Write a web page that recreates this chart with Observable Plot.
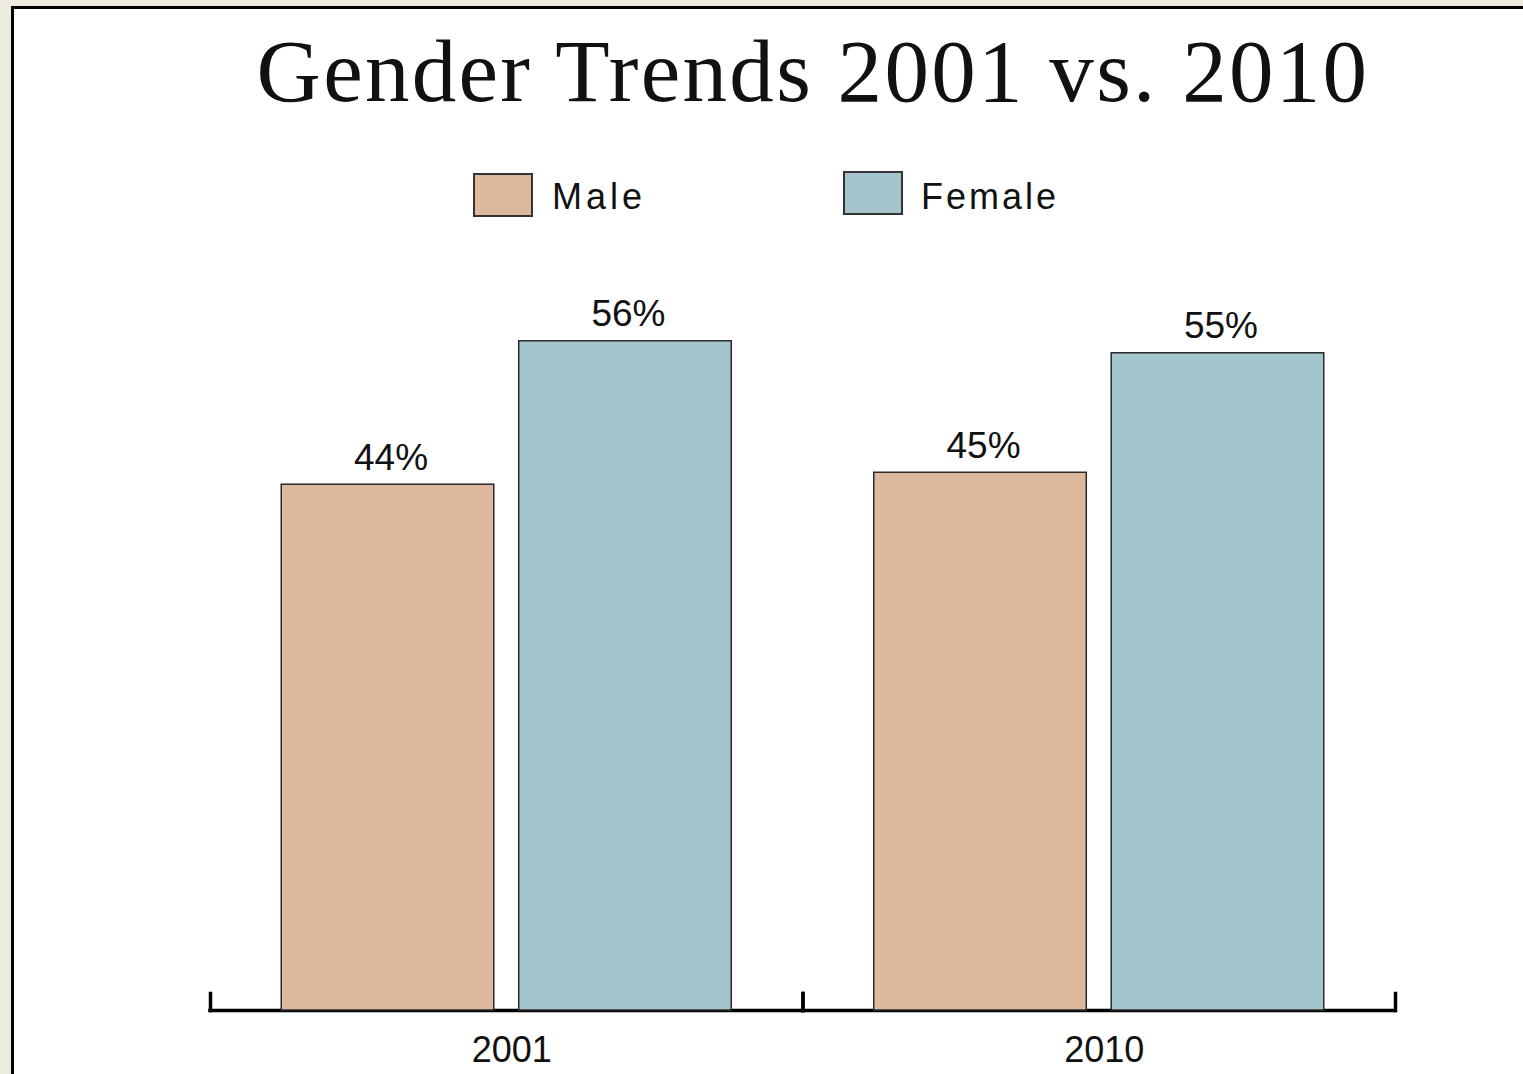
<!DOCTYPE html>
<html>
<head>
<meta charset="utf-8">
<script src="https://cdn.jsdelivr.net/npm/d3@7"></script>
<script src="https://cdn.jsdelivr.net/npm/@observablehq/plot@0.6"></script>
<style>
  html, body { margin: 0; padding: 0; }
  body { width: 1523px; height: 1074px; background: #EDEAE0; position: relative; overflow: hidden; }
  #panel { position: absolute; left: 11px; top: 6px; right: 0; bottom: 0; background: #fff;
           border-left: 3px solid #000; border-top: 3px solid #000; }
  #title { position: absolute; left: 813px; top: 27px; transform: translateX(-50%); white-space: nowrap;
           font-family: "Liberation Serif", serif; font-size: 89px; line-height: 1; letter-spacing: 2.3px; color: #111; margin: 0; font-weight: normal; }
  .sw { position: absolute; box-sizing: border-box; border: 2px solid #333; width: 60px; height: 44px; }
  .lt { position: absolute; font-family: "Liberation Sans", sans-serif; font-size: 36px; line-height: 1; letter-spacing: 3px; color: #111; }
  #chart { position: absolute; left: 0; top: 260px; }
</style>
</head>
<body>
<div id="panel"></div>
<h1 id="title"></h1>
<div id="legend"></div>
<div id="chart"></div>
<script>
const titleText = "Gender Trends 2001 vs. 2010";
const years = ["2001", "2010"];
const genders = ["Male", "Female"];
const maleValues = [44, 45];
const femaleValues = [56, 55];
const colors = ["#DEB89D", "#A5C5CE"];

document.getElementById("title").textContent = titleText;

// legend
const legend = document.getElementById("legend");
const legendPos = [{sx: 473, sy: 173, tx: 552, ls: 4}, {sx: 843, sy: 171, tx: 921, ls: 3}];
genders.forEach((g, i) => {
  const sw = document.createElement("div");
  sw.className = "sw";
  sw.style.left = legendPos[i].sx + "px";
  sw.style.top = legendPos[i].sy + "px";
  sw.style.background = colors[i];
  legend.appendChild(sw);
  const t = document.createElement("div");
  t.className = "lt";
  t.style.left = legendPos[i].tx + "px";
  t.style.top = "179px";
  t.style.letterSpacing = legendPos[i].ls + "px";
  t.textContent = g;
  legend.appendChild(t);
});

const data = [];
years.forEach((y, i) => {
  data.push({year: y, gender: "Male", value: maleValues[i]});
  data.push({year: y, gender: "Female", value: femaleValues[i]});
});

const chart = Plot.plot({
  width: 1523,
  height: 814,
  marginLeft: 210,
  marginRight: 128,
  marginTop: 33,
  marginBottom: 64,
  style: {fontFamily: "Liberation Sans, sans-serif", fontSize: "36px", color: "#111", background: "transparent", overflow: "visible"},
  fx: {domain: years, padding: 0, axis: "bottom", tickSize: 0, tickPadding: 26, label: null, round: false},
  x: {domain: genders, paddingInner: 0.105, paddingOuter: 0.30, round: false, axis: null},
  y: {domain: [0, 60], axis: null},
  color: {domain: genders, range: colors},
  marks: [
    Plot.ruleY([0], {stroke: "#000", strokeWidth: 3.5, strokeLinecap: "square"}),
    Plot.frame({anchor: "left", insetTop: 700, stroke: "#000", strokeWidth: 3.5}),
    Plot.frame({anchor: "right", insetTop: 700, stroke: "#000", strokeWidth: 3.5}),
    Plot.barY(data, {fx: "year", x: "gender", y: "value", fill: "gender", stroke: "#2a2a2a", strokeWidth: 1.5}),
    Plot.text(data, {fx: "year", x: "gender", y: "value", text: d => d.value + "%", lineAnchor: "bottom", dy: -15, dx: 3, fontSize: 37, fill: "#111"})
  ]
});
chart.querySelectorAll('g[aria-label="fx-axis tick label"] text, g[aria-label="fx-axis"] text').forEach(t => t.setAttribute("dx", "5"));
document.getElementById("chart").appendChild(chart);
</script>
</body>
</html>
